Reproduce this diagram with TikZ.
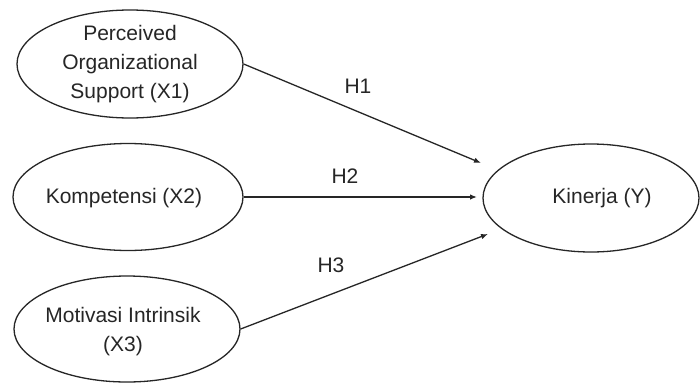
\documentclass[tikz,border=0pt]{standalone}
\usepackage{fontspec}
\setmainfont{Liberation Sans}
\usetikzlibrary{arrows.meta,shapes.geometric}
\begin{document}
\begin{tikzpicture}[x=1pt,y=-1pt,
  oval/.style={draw=black!85, line width=1.3pt, ellipse, inner sep=0pt},
  lbl/.style={text=black!85, font=\fontsize{21}{29}\selectfont, align=center, inner sep=0pt},
  arr/.style={draw=black!85, line width=1.3pt, -{Latex[length=7pt,width=5.5pt]}}]
\useasboundingbox[fill=white] (0,0) rectangle (700,383);
% ellipses
\node[oval, minimum width=226pt, minimum height=108pt] (x1) at (130,64) {};
\node[oval, minimum width=230pt, minimum height=107pt] (x2) at (128,197) {};
\node[oval, minimum width=226pt, minimum height=106pt] (x3) at (127,329) {};
\node[oval, minimum width=216pt, minimum height=108pt] (y) at (591,198) {};
% texts
\node[lbl] (tx1) at (130,64) {Perceived\\Organizational\\Support (X1)};
\node[lbl] (tx2) at (124,198) {Kompetensi (X2)};
\node[lbl] (tx3) at (123,332) {Motivasi Intrinsik\\(X3)};
\node[lbl] (ty) at (602,198) {Kinerja (Y)};
% arrow ends
\coordinate (t1) at (481,163);
\coordinate (t2) at (477,197);
\coordinate (t3) at (488,234);
\draw[arr] (x1.east) -- (t1);
\draw[arr] (x2.east) -- (t2);
\draw[arr] (x3.east) -- (t3);
% hypothesis labels
\node[lbl] (h1) at (358,86) {H1};
\node[lbl] (h2) at (345,176) {H2};
\node[lbl] (h3) at (331,265) {H3};
\end{tikzpicture}
\end{document}
